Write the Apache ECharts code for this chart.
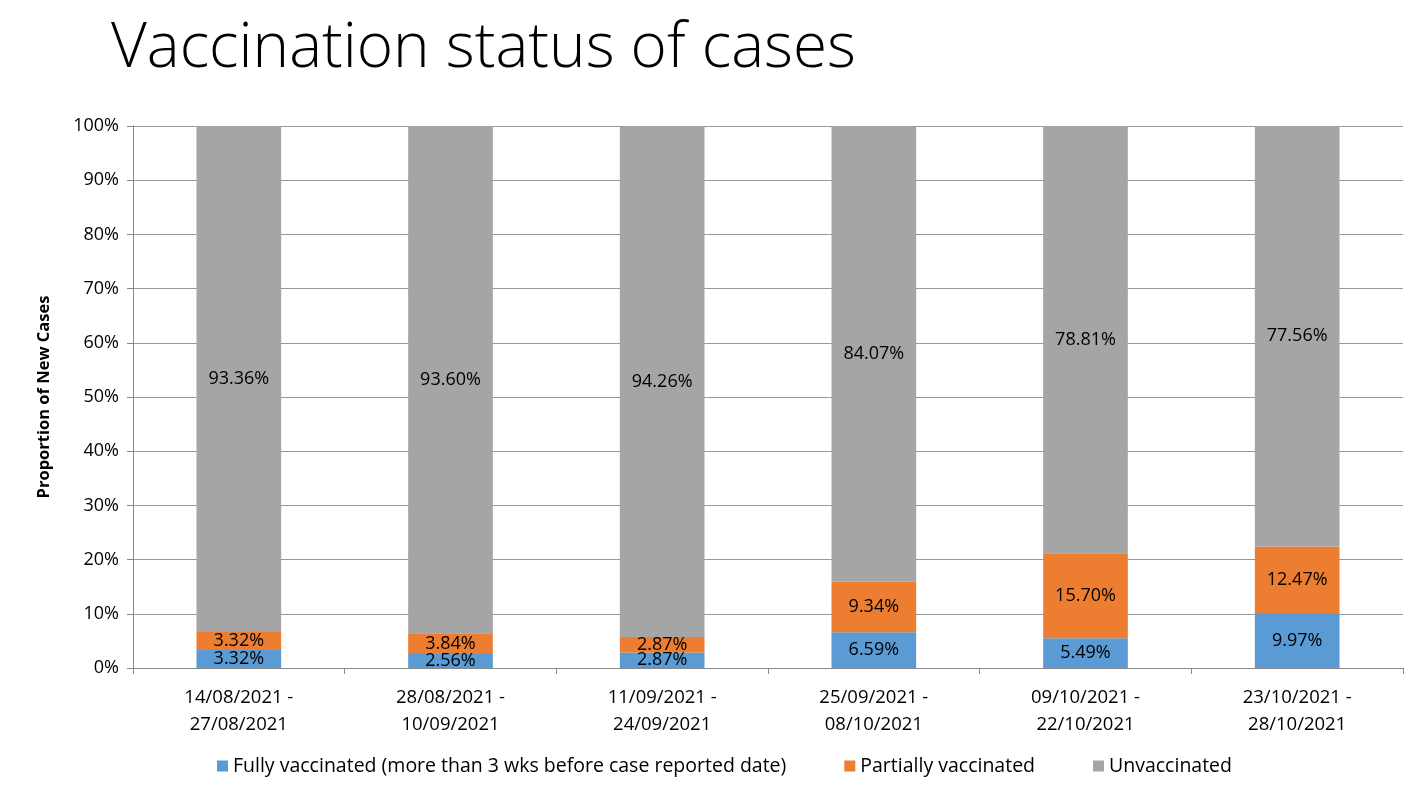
<!DOCTYPE html>
<html><head><meta charset="utf-8">
<script src="https://cdn.jsdelivr.net/npm/echarts@6/dist/echarts.min.js"></script>
<style>html,body{margin:0;padding:0;background:#fff}#c{width:1423px;height:791px}</style>
</head><body><div id="c"></div>
<script>
var categories = ['14/08/2021 -\n27/08/2021','28/08/2021 -\n10/09/2021','11/09/2021 -\n24/09/2021','25/09/2021 -\n08/10/2021','09/10/2021 -\n22/10/2021','23/10/2021 -\n28/10/2021'];
var fullyVaccinated = [3.32, 2.56, 2.87, 6.59, 5.49, 9.97];
var partiallyVaccinated = [3.32, 3.84, 2.87, 9.34, 15.70, 12.47];
var unvaccinated = [93.36, 93.60, 94.26, 84.07, 78.81, 77.56];
var yTicks = [0,10,20,30,40,50,60,70,80,90,100];

var font = 'Open Sans, Liberation Sans, sans-serif';
var lbl = {show:true, position:'inside', color:'#000', fontSize:18, fontFamily:font,
  formatter:function(p){return p.value.toFixed(2)+'%';}};
function mk(name, data, color){
  return {name:name, type:'bar', stack:'a', data:data, barWidth:'40%',
    itemStyle:{color:color}, label:lbl, emphasis:{disabled:true}};
}
var chart = echarts.init(document.getElementById('c'));
chart.setOption({
  animation:false,
  title:{text:'Vaccination status of cases', left:106, top:13,
    textStyle:{fontFamily:font, fontWeight:300, fontSize:62, color:'#000'}},
  grid:{left:133, right:20, top:126, bottom:123},
  legend:{bottom:10, left:212, itemWidth:11, itemHeight:11, itemGap:58, icon:'rect',
    textStyle:{fontFamily:font, fontSize:19.5, color:'#000'},
    data:['Fully vaccinated (more than 3 wks before case reported date)','Partially vaccinated','Unvaccinated']},
  xAxis:{type:'category', data:categories,
    axisLine:{lineStyle:{color:'#888'}},
    axisTick:{show:true, length:6, lineStyle:{color:'#888'}},
    axisLabel:{color:'#000', fontSize:18.5, fontFamily:font, margin:16, lineHeight:27}},
  yAxis:{type:'value', min:0, max:100, interval:10,
    name:'Proportion of New Cases', nameLocation:'middle', nameGap:80, nameRotate:90,
    nameTextStyle:{fontFamily:font, fontSize:16.5, fontWeight:'bold', color:'#000'},
    axisLine:{show:true, lineStyle:{color:'#888'}},
    axisTick:{show:true, length:6, lineStyle:{color:'#888'}},
    axisLabel:{color:'#000', fontSize:18, fontFamily:font, margin:14,
      formatter:function(v){return yTicks.indexOf(v)>=0 ? v+'%' : '';}},
    splitLine:{lineStyle:{color:'#999', width:1}}},
  series:[
    mk('Fully vaccinated (more than 3 wks before case reported date)', fullyVaccinated, '#5B9BD5'),
    mk('Partially vaccinated', partiallyVaccinated, '#ED7D31'),
    mk('Unvaccinated', unvaccinated, '#A5A5A5')
  ]
});
</script></body></html>
